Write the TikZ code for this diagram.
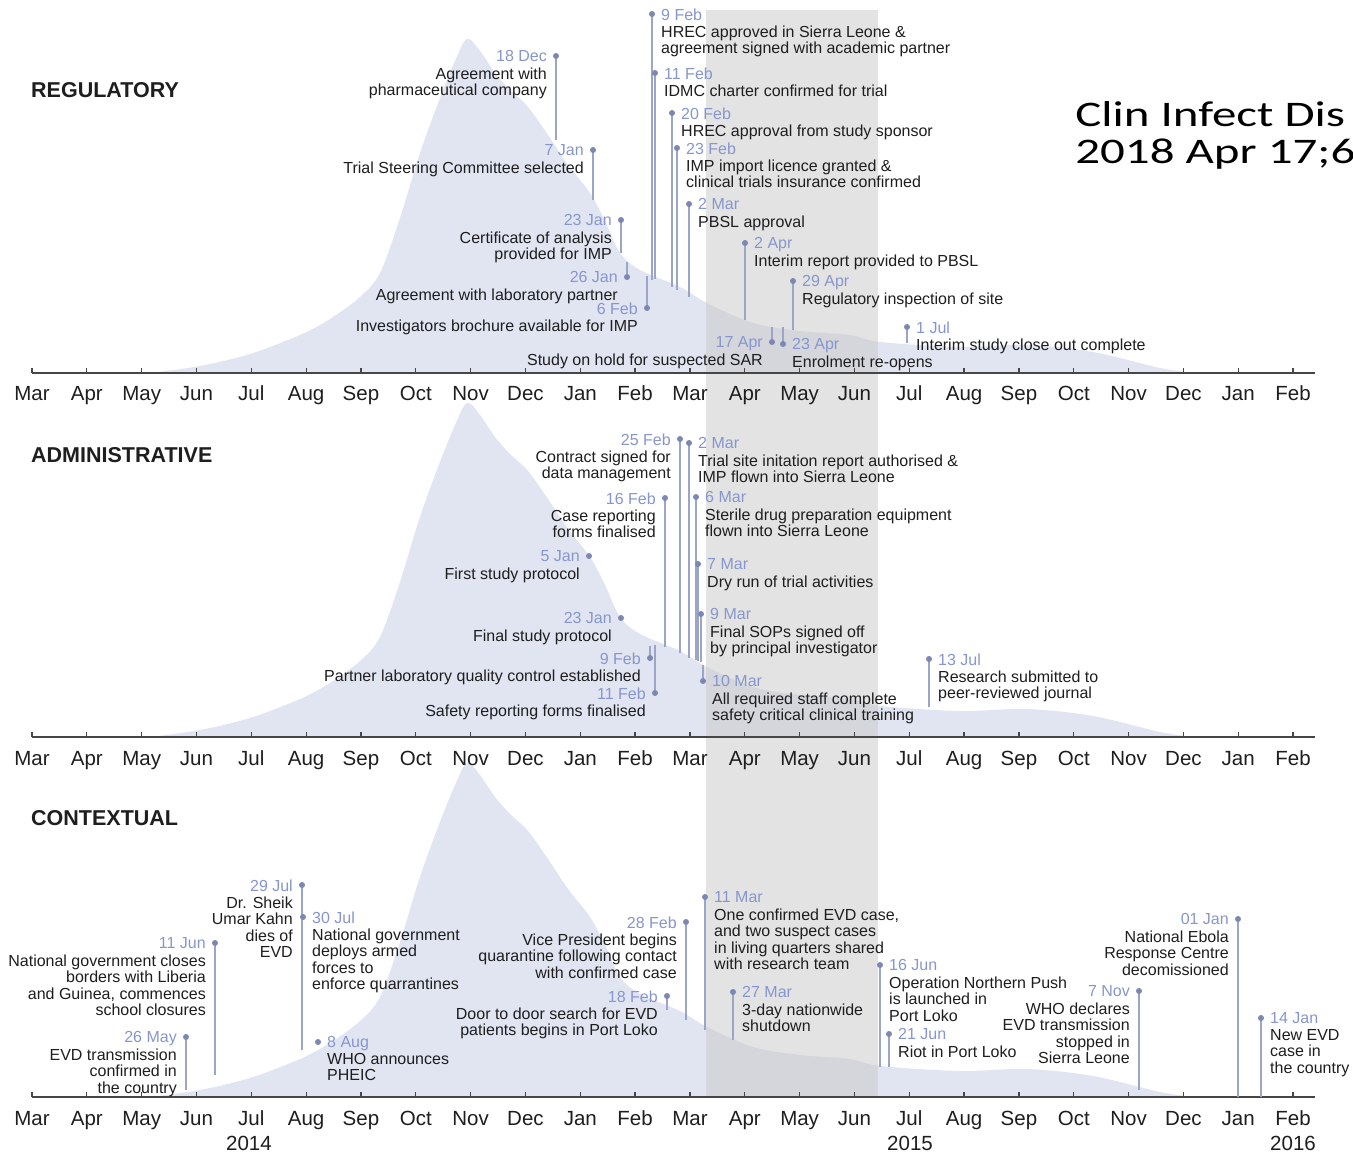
\documentclass[tikz,border=0pt]{standalone}
\usepackage{fontspec}
\setmainfont{Liberation Sans}
\newfontfamily\citefont{Carlito}
\newcommand\evfont{\fontsize{16}{16.4}\selectfont}
\newcommand\datetxt[1]{\textcolor{datec}{#1}}
% event with label to the right of its dot: name, x, y of dot, y of line end, date, text
\newcommand\evtL[6]{%
  \coordinate (#1) at (#2,#3);
  \coordinate (#1-end) at (#2,#4);
  \draw[stemline] (#1) -- (#1-end);
  \node[evdot] (#1-dot) at (#1) {};
  \node[evL] (#1-txt) at (#1) {\strut\datetxt{#5}\\#6};
}
% event with label to the left of its dot
\newcommand\evtR[6]{%
  \coordinate (#1) at (#2,#3);
  \coordinate (#1-end) at (#2,#4);
  \draw[stemline] (#1) -- (#1-end);
  \node[evdot] (#1-dot) at (#1) {};
  \node[evR] (#1-txt) at (#1) {\strut\datetxt{#5}\\#6};
}
% month axis at height #1, named with prefix #2
\newcommand\monthaxis[2]{%
  \draw[axisline] (32,#1) -- (1315,#1);
  \foreach \m [count=\i from 0] in {Mar,Apr,May,Jun,Jul,Aug,Sep,Oct,Nov,Dec,Jan,Feb,Mar,Apr,May,Jun,Jul,Aug,Sep,Oct,Nov,Dec,Jan,Feb}{
    \draw[axisline] ({32+54.83*\i},#1) -- ++(0,-5);
    \node[monthlab] (#2\i) at ({32+54.83*\i},#1+28) {\m};
  }
}
% epidemic curve over a baseline at height #1
\newcommand\epicurve[1]{%
  \fill[epi] plot[smooth, tension=0.55] coordinates {
    (150,#1) (200,#1-7) (250,#1-19) (300,#1-38) (330,#1-54) (360,#1-76)
    (380,#1-100) (400,#1-155) (420,#1-220) (440,#1-275) (455,#1-312)
    (467,#1-334) (480,#1-322) (495,#1-300) (510,#1-283) (528,#1-266)
    (548,#1-238) (568,#1-208) (590,#1-180) (605,#1-152) (620,#1-120)
    (640,#1-103) (680,#1-86) (707,#1-70) (753,#1-50) (800,#1-42)
    (850,#1-38) (880,#1-31) (960,#1-26) (1027,#1-28) (1093,#1-21)
    (1160,#1-5) (1195,#1)} -- cycle;
}
\begin{document}
\begin{tikzpicture}[x=1pt,y=-1pt]
\definecolor{epi}{RGB}{225,229,241}
\definecolor{bandc}{RGB}{200,200,200}
\definecolor{datec}{RGB}{135,150,205}
\definecolor{stemc}{RGB}{155,165,200}
\definecolor{dotc}{RGB}{125,135,180}
\definecolor{txtc}{RGB}{30,30,30}
\definecolor{axisc}{RGB}{70,70,70}
\tikzset{
  evdot/.style={circle, fill=dotc, inner sep=0pt, minimum size=6pt},
  stemline/.style={draw=stemc, line width=1.8pt},
  evL/.style={anchor=north west, align=left, inner sep=0pt, text=txtc, font=\evfont, xshift=9pt, yshift=5.75pt},
  evR/.style={anchor=north east, align=right, inner sep=0pt, text=txtc, font=\evfont, xshift=-9pt, yshift=5.75pt},
  axisline/.style={draw=axisc, line width=1.3pt},
  monthlab/.style={anchor=base, inner sep=0pt, text=txtc, font=\fontsize{20.5}{24}\selectfont},
  paneltitle/.style={anchor=base west, inner sep=0pt, text=txtc, font=\bfseries\fontsize{21.5}{24}\selectfont},
  citetext/.style={anchor=base west, inner sep=0pt, text=black, xscale=1.36, font=\citefont\fontsize{36}{40}\selectfont}
}
\fill[white] (0,0) rectangle (1353,1158);
\useasboundingbox (0,0) rectangle (1353,1158);

% epidemic curves behind each panel
\epicurve{373}
\epicurve{737}
\epicurve{1097}

% shaded trial period
\fill[bandc, opacity=0.5] (706,10) rectangle (878,1097);

% axes
\monthaxis{373}{ma}
\monthaxis{737}{mb}
\monthaxis{1097}{mc}
\node[monthlab] (y2014) at (249,1150) {2014};
\node[monthlab] (y2015) at (910,1150) {2015};
\node[monthlab] (y2016) at (1293,1150) {2016};

% panel titles
\node[paneltitle] (treg) at (31,98) {REGULATORY};
\node[paneltitle] (tadm) at (31,462) {ADMINISTRATIVE};
\node[paneltitle] (tctx) at (31,825) {CONTEXTUAL};

% citation
\node[citetext] (cite1) at (1075,127) {Clin Infect Dis};
\node[citetext] (cite2) at (1075,164) {2018 Apr 17;6};

% regulatory events
\evtR{r1}{556}{56}{140}{18 Dec}{Agreement with\\pharmaceutical company}
\evtR{r2}{593}{150}{200}{7 Jan}{Trial Steering Committee selected}
\evtR{r3}{621}{220}{253}{23 Jan}{Certificate of analysis\\provided for IMP}
\evtR{r4}{627}{277}{262}{26 Jan}{Agreement with laboratory partner}
\evtR{r5}{647}{308}{276}{6 Feb}{Investigators brochure available for IMP}
\evtL{r6}{652}{14}{280}{9 Feb}{HREC approved in Sierra Leone \&\\agreement signed with academic partner}
\evtL{r7}{655}{73}{279}{11 Feb}{IDMC charter confirmed for trial}
\evtL{r8}{672}{113}{287}{20 Feb}{HREC approval from study sponsor}
\evtL{r9}{677}{148}{290}{23 Feb}{IMP import licence granted \&\\clinical trials insurance confirmed}
\evtL{r10}{689}{204}{297}{2 Mar}{PBSL approval}
\evtL{r11}{745}{243}{320}{2 Apr}{Interim report provided to PBSL}
\evtL{r12}{793}{281}{330}{29 Apr}{Regulatory inspection of site}
\evtR{r13}{772}{342}{327}{17 Apr}{Study on hold for suspected SAR}
\evtL{r14}{783}{344}{327}{23 Apr}{Enrolment re-opens}
\evtL{r15}{907}{327}{343}{1 Jul}{Interim study close out complete}

% administrative events
\evtR{a1}{680}{439}{653}{25 Feb}{Contract signed for\\data management}
\evtL{a2}{689}{443}{658}{2 Mar}{Trial site initation report authorised \&\\IMP flown into Sierra Leone}
\evtR{a3}{665}{498}{647}{16 Feb}{Case reporting\\forms finalised}
\evtR{a4}{589}{556}{556}{5 Jan}{First study protocol}
\evtR{a5}{621}{618}{618}{23 Jan}{Final study protocol}
\evtR{a6}{650}{658}{646}{9 Feb}{Partner laboratory quality control established}
\evtR{a7}{655}{693}{645}{11 Feb}{Safety reporting forms finalised}
\evtL{a8}{696}{497}{660}{6 Mar}{Sterile drug preparation equipment\\flown into Sierra Leone}
\evtL{a9}{698}{564}{661}{7 Mar}{Dry run of trial activities}
\evtL{a10}{701}{614}{662}{9 Mar}{Final SOPs signed off\\by principal investigator}
\evtL{a11}{703}{681}{665}{10 Mar}{All required staff complete\\safety critical clinical training}
\evtL{a12}{929}{659}{707}{13 Jul}{Research submitted to\\peer-reviewed journal}

% contextual events
\evtR{c1}{186}{1037}{1090}{26 May}{EVD transmission\\confirmed in\\the country}
\evtR{c2}{215}{943}{1075}{11 Jun}{National government closes\\borders with Liberia\\and Guinea, commences\\school closures}
\evtR{c3}{302}{885}{1050}{29 Jul}{Dr. Sheik\\Umar Kahn\\dies of\\EVD}
\evtL{c4}{303}{917}{917}{30 Jul}{National government\\deploys armed\\forces to\\enforce quarrantines}
\evtL{c5}{318}{1042}{1042}{8 Aug}{WHO announces\\PHEIC}
\evtR{c6}{667}{996}{1010}{18 Feb}{Door to door search for EVD\\patients begins in Port Loko}
\evtR{c7}{686}{922}{1020}{28 Feb}{Vice President begins\\quarantine following contact\\with confirmed case}
\evtL{c8}{705}{897}{1030}{11 Mar}{One confirmed EVD case,\\and two suspect cases\\in living quarters shared\\with research team}
\evtL{c9}{733}{992}{1040}{27 Mar}{3-day nationwide\\shutdown}
\evtL{c10}{880}{965}{1067}{16 Jun}{Operation Northern Push\\is launched in\\Port Loko}
\evtL{c11}{889}{1034}{1067}{21 Jun}{Riot in Port Loko}
\evtR{c12}{1139}{991}{1090}{7 Nov}{WHO declares\\EVD transmission\\stopped in\\Sierra Leone}
\evtR{c13}{1238}{919}{1097}{01 Jan}{National Ebola\\Response Centre\\decomissioned}
\evtL{c14}{1261}{1018}{1097}{14 Jan}{New EVD\\case in\\the country}
\end{tikzpicture}
\end{document}
